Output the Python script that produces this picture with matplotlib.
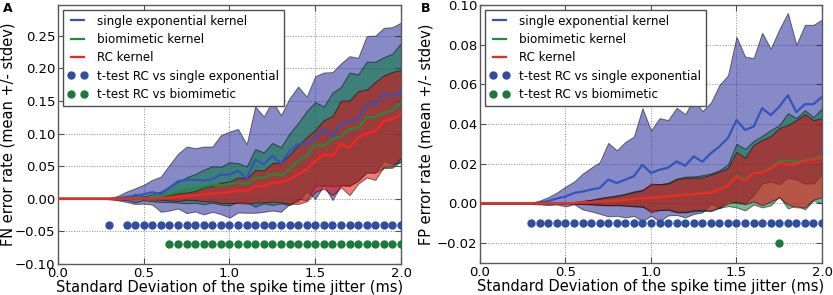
import matplotlib
matplotlib.use("Agg")
import matplotlib.pyplot as plt
import numpy as np

# jitter values (ms) at which the error rates were measured
jitter = np.arange(0, 2.001, 0.05)

# ---- panel A : FN error rate ----
fn_single_mean = [0, 0, 0, 0, 0, 0, 0.000, 0.001, 0.003, 0.004, 0.007, 0.010, 0.007, 0.017, 0.027,
                  0.029, 0.029, 0.028, 0.030, 0.037, 0.037, 0.043, 0.031, 0.060, 0.053, 0.066, 0.054,
                  0.073, 0.084, 0.084, 0.094, 0.107, 0.096, 0.114, 0.119, 0.122, 0.145, 0.145, 0.160,
                  0.158, 0.163]
fn_single_std = [0, 0, 0, 0, 0, 0, 0.001, 0.0035, 0.008, 0.012, 0.0145, 0.019, 0.027, 0.035, 0.042,
                 0.051, 0.0485, 0.052, 0.050, 0.0605, 0.066, 0.064, 0.0525, 0.0815, 0.073, 0.084, 0.074,
                 0.081, 0.088, 0.0725, 0.094, 0.0865, 0.098, 0.0935, 0.0995, 0.094, 0.1045, 0.105,
                 0.102, 0.105, 0.107]
fn_bio_mean = [0, 0, 0, 0, 0, 0, 0, 0, 0, 0.001, 0.001, 0.0015, 0.003, 0.007, 0.010, 0.013, 0.016,
               0.018, 0.022, 0.020, 0.023, 0.025, 0.022, 0.032, 0.032, 0.038, 0.036, 0.045, 0.058,
               0.066, 0.084, 0.081, 0.091, 0.096, 0.107, 0.109, 0.125, 0.125, 0.132, 0.135, 0.148]
fn_bio_std = [0, 0, 0, 0, 0, 0, 0, 0.001, 0.002, 0.0065, 0.003, 0.0055, 0.008, 0.012, 0.016, 0.020,
              0.022, 0.0265, 0.028, 0.029, 0.033, 0.0295, 0.0275, 0.044, 0.039, 0.0475, 0.043, 0.055,
              0.058, 0.0685, 0.064, 0.0605, 0.0715, 0.0755, 0.0865, 0.0815, 0.085, 0.085, 0.085,
              0.0875, 0.0905]
fn_rc_mean = [0, 0, 0, 0, 0, 0, 0, 0, 0, 0, 0, 0, 0.0005, 0.0015, 0.0025, 0.004, 0.005, 0.0065,
              0.008, 0.009, 0.010, 0.013, 0.012, 0.019, 0.019, 0.025, 0.025, 0.030, 0.037, 0.045,
              0.058, 0.068, 0.066, 0.084, 0.078, 0.094, 0.100, 0.104, 0.119, 0.122, 0.130]
fn_rc_std = [0, 0, 0, 0, 0, 0, 0, 0, 0, 0, 0, 0.001, 0.002, 0.004, 0.006, 0.0055, 0.007, 0.0105,
             0.012, 0.0155, 0.0165, 0.0195, 0.0195, 0.025, 0.0245, 0.0295, 0.0305, 0.0375, 0.045,
             0.049, 0.0475, 0.0525, 0.0605, 0.0665, 0.0725, 0.071, 0.0675, 0.075, 0.070, 0.0725,
             0.0675]
# jitter values where the t-tests are significant
fn_sig_single = [0.30, 0.40, 0.45, 0.50, 0.55, 0.60, 0.65, 0.70, 0.75, 0.80, 0.85, 0.90, 0.95,
                 1.00, 1.05, 1.10, 1.15, 1.20, 1.25, 1.30, 1.35, 1.40, 1.45, 1.50, 1.55, 1.60,
                 1.65, 1.70, 1.75, 1.80, 1.85, 1.90, 1.95, 2.00]
fn_sig_bio = [0.65, 0.70, 0.75, 0.80, 0.85, 0.90, 0.95, 1.00, 1.05, 1.10, 1.15, 1.20, 1.25, 1.30,
              1.35, 1.40, 1.45, 1.50, 1.55, 1.60, 1.65, 1.70, 1.75, 1.80, 1.85, 1.90, 1.95, 2.00]

# ---- panel B : FP error rate ----
fp_single_mean = [0, 0, 0, 0, 0, 0, 0, 0.0005, 0.0012, 0.0025, 0.0035, 0.0053, 0.006, 0.007,
                  0.0078, 0.012, 0.0103, 0.012, 0.0137, 0.0195, 0.0153, 0.017, 0.018, 0.0212, 0.019,
                  0.0237, 0.021, 0.0253, 0.0287, 0.033, 0.042, 0.037, 0.0387, 0.048, 0.0445, 0.0487,
                  0.0545, 0.046, 0.050, 0.050, 0.0537]
fp_single_std = [0, 0, 0, 0, 0, 0, 0.0003, 0.001, 0.002, 0.003, 0.005, 0.0057, 0.009, 0.011, 0.013,
                 0.0185, 0.0165, 0.019, 0.020, 0.0285, 0.0215, 0.026, 0.024, 0.027, 0.026, 0.029,
                 0.0255, 0.0255, 0.031, 0.0315, 0.042, 0.037, 0.0345, 0.038, 0.0335, 0.039, 0.0415,
                 0.034, 0.040, 0.040, 0.039]
fp_bio_mean = [0, 0, 0, 0, 0, 0, 0, 0, 0, 0, 0, 0.0002, 0.0005, 0.0007, 0.001, 0.0012, 0.0016,
               0.0019, 0.0023, 0.0026, 0.003, 0.0032, 0.0036, 0.004, 0.0045, 0.0048, 0.0052, 0.0056,
               0.0072, 0.0092, 0.014, 0.012, 0.0155, 0.016, 0.018, 0.0215, 0.0215, 0.021, 0.022,
               0.0225, 0.024]
fp_bio_std = [0, 0, 0, 0, 0, 0, 0, 0, 0, 0, 0, 0.0004, 0.0008, 0.0012, 0.0018, 0.0022, 0.0025,
              0.003, 0.0038, 0.0043, 0.0065, 0.0065, 0.0068, 0.0085, 0.009, 0.0088, 0.009, 0.0095,
              0.0095, 0.0105, 0.016, 0.0155, 0.016, 0.018, 0.019, 0.018, 0.024, 0.022, 0.025,
              0.021, 0.024]
fp_rc_mean = [0, 0, 0, 0, 0, 0, 0, 0, 0, 0, 0, 0.0002, 0.0005, 0.0007, 0.0009, 0.0012, 0.0015,
              0.0018, 0.0022, 0.0026, 0.0028, 0.0032, 0.0035, 0.004, 0.0043, 0.0048, 0.005, 0.0055,
              0.007, 0.009, 0.0135, 0.0113, 0.0153, 0.0155, 0.0175, 0.0205, 0.0195, 0.020, 0.0215,
              0.022, 0.023]
fp_rc_std = [0, 0, 0, 0, 0, 0, 0, 0, 0, 0, 0, 0.0003, 0.0007, 0.001, 0.0015, 0.002, 0.0022, 0.0028,
             0.0035, 0.004, 0.0072, 0.0065, 0.0065, 0.0082, 0.0085, 0.0082, 0.0082, 0.009, 0.009,
             0.009, 0.0125, 0.0117, 0.0142, 0.0165, 0.0165, 0.0175, 0.020, 0.022, 0.0235, 0.020,
             0.020]
fp_sig_single = [0.30, 0.35, 0.40, 0.45, 0.50, 0.55, 0.60, 0.65, 0.70, 0.75, 0.80, 0.85, 0.90,
                 0.95, 1.00, 1.05, 1.10, 1.15, 1.20, 1.25, 1.30, 1.35, 1.40, 1.45, 1.50, 1.55,
                 1.60, 1.65, 1.70, 1.75, 1.80, 1.85, 1.90, 1.95, 2.00]
fp_sig_bio = [1.75]

line_cols = {"single": "#3355bb", "bio": "#1e8c3a", "rc": "#ff2222"}
fill_cols = {"single": "#1c2294", "bio": "#007638", "rc": "#ec0205"}
dot_single = "#2f4ea0"
dot_bio = "#1a7a3a"

plt.rcParams["font.family"] = "DejaVu Sans"

fig = plt.figure(figsize=(8.33, 2.95), dpi=100)
axA = fig.add_axes([0.0696, 0.1051, 0.4118, 0.878])
axB = fig.add_axes([0.5762, 0.1085, 0.4106, 0.8746])


def draw_panel(ax, series, sig1, sig2, y1, y2, ylabel, ylim, yticks, yfmt, ylab_x):
    # bands first, then mean lines on top
    for key, mean, std in series:
        m = np.array(mean)
        s = np.array(std)
        ax.fill_between(jitter, m - s, m + s, facecolor=fill_cols[key], edgecolor="k",
                        linewidth=0.7, alpha=0.53, zorder=1)
    labels = {"single": "single exponential kernel", "bio": "biomimetic kernel", "rc": "RC kernel"}
    for key, mean, std in series:
        ax.plot(jitter, mean, color=line_cols[key], lw=1.6, label=labels[key], zorder=3)
    ax.plot(sig1, [y1] * len(sig1), "o", color=dot_single, ms=5, mec=dot_single,
            label="t-test RC vs single exponential", zorder=4)
    ax.plot(sig2, [y2] * len(sig2), "o", color=dot_bio, ms=5, mec=dot_bio,
            label="t-test RC vs biomimetic", zorder=4)

    ax.set_xlim(0, 2.0)
    ax.set_ylim(*ylim)
    ax.set_xticks([0.0, 0.5, 1.0, 1.5, 2.0])
    ax.set_xticklabels(["0.0", "0.5", "1.0", "1.5", "2.0"])
    ax.set_yticks(yticks)
    ax.set_yticklabels([yfmt % v if v >= 0 else "\u2212" + yfmt % -v for v in yticks])
    ax.tick_params(direction="in", top=True, right=True, length=4, width=0.8,
                   labelsize=9.5, color="0.3", pad=2)
    ax.grid(True, linestyle=":", color="0.55", linewidth=0.7)
    ax.set_axisbelow(True)
    for sp in ax.spines.values():
        sp.set_color("0.35")
        sp.set_linewidth(1.0)
    ax.set_xlabel("Standard Deviation of the spike time jitter (ms)", fontsize=10.5, labelpad=0)
    ax.set_ylabel(ylabel, fontsize=10.5)
    ax.yaxis.set_label_coords(ylab_x, 0.5)
    leg = ax.legend(loc="upper left", fontsize=8.6, numpoints=2, handlelength=1.7,
                    fancybox=False, borderaxespad=0.4, framealpha=1, labelspacing=0.45)
    leg.get_frame().set_edgecolor("0.3")
    leg.get_frame().set_linewidth(1.0)
    leg.set_zorder(5)


draw_panel(axA,
           [("single", fn_single_mean, fn_single_std),
            ("bio", fn_bio_mean, fn_bio_std),
            ("rc", fn_rc_mean, fn_rc_std)],
           fn_sig_single, fn_sig_bio, -0.04, -0.07,
           "FN error rate (mean +/- stdev)", (-0.1, 0.297),
           [-0.10, -0.05, 0.0, 0.05, 0.10, 0.15, 0.20, 0.25], "%.2f", -0.124)
draw_panel(axB,
           [("single", fp_single_mean, fp_single_std),
            ("bio", fp_bio_mean, fp_bio_std),
            ("rc", fp_rc_mean, fp_rc_std)],
           fp_sig_single, fp_sig_bio, -0.01, -0.02,
           "FP error rate (mean +/- stdev)", (-0.03, 0.10),
           [-0.02, 0.0, 0.02, 0.04, 0.06, 0.08, 0.10], "%.2f", -0.137)

fig.text(0.0096, 0.97, "A", fontsize=9, fontweight="bold", va="center", ha="center")
fig.text(0.5114, 0.97, "B", fontsize=9, fontweight="bold", va="center", ha="center")

fig.savefig("out.png", dpi=100)
